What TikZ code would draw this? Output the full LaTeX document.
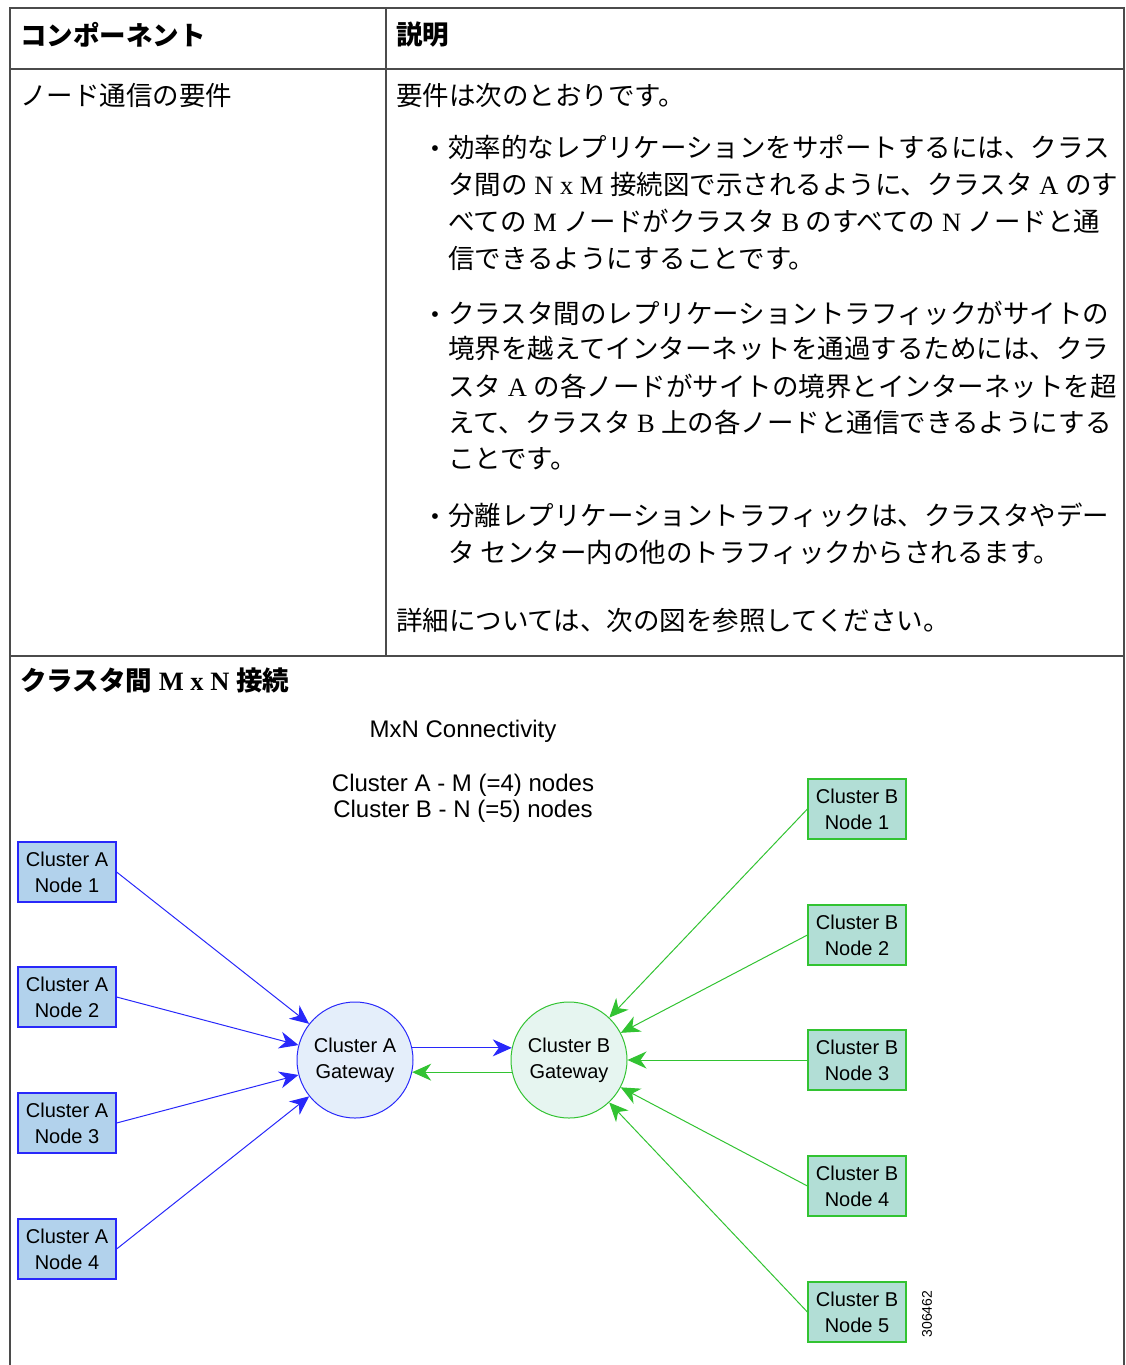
\documentclass[tikz,border=0pt]{standalone}
\usepackage{fontspec}
\setmainfont{Liberation Serif}
\newfontfamily\jpfont{Noto Sans CJK JP}
\newfontfamily\diagfont{Liberation Sans}
\usetikzlibrary{arrows.meta}
\newcommand{\latn}[1]{{\rmfamily #1}}

\definecolor{acol}{RGB}{40,40,250}
\definecolor{bcol}{RGB}{50,195,50}
\definecolor{afill}{RGB}{178,210,236}
\definecolor{bfill}{RGB}{178,222,214}
\definecolor{agfill}{RGB}{228,238,250}
\definecolor{bgfill}{RGB}{230,245,240}
\definecolor{tabcol}{RGB}{75,75,75}

\tikzset{
  tabline/.style={draw=tabcol, line width=1.6pt},
  jtext/.style={anchor=west, inner sep=0pt, font=\jpfont\fontsize{26.5}{30}\selectfont},
  jhead/.style={jtext, font=\jpfont\bfseries\fontsize{26.5}{30}\selectfont},
  bullet/.style={anchor=center, inner sep=0pt, font=\rmfamily\fontsize{24}{26}\selectfont},
  dtext/.style={font=\diagfont\fontsize{20}{26}\selectfont, align=center, inner sep=0pt},
  abox/.style={dtext, draw=acol, fill=afill, line width=1.2pt, minimum width=98pt, minimum height=60pt},
  bbox/.style={dtext, draw=bcol, fill=bfill, line width=1.2pt, minimum width=98pt, minimum height=60pt},
  agw/.style={dtext, circle, draw=acol, fill=agfill, line width=1pt, minimum size=116pt},
  bgw/.style={dtext, circle, draw=bcol, fill=bgfill, line width=1pt, minimum size=116pt},
  aarrow/.style={draw=acol, line width=1pt, -{Stealth[length=19pt,width=17pt,inset=6pt]}},
  barrow/.style={draw=bcol, line width=1pt, -{Stealth[length=19pt,width=17pt,inset=6pt]}}
}

\begin{document}
\begin{tikzpicture}[x=1pt, y=-1pt]
  \useasboundingbox (0,0) rectangle (1126,1365);
  % tabela
  \draw[tabline] (10,1365) -- (10,8) -- (1124,8) -- (1124,1365);
  \draw[tabline] (10,69) -- (1124,69);
  \draw[tabline] (10,656) -- (1124,656);
  \draw[tabline] (386,8) -- (386,656);
  % cabecalho
  \node[jhead] (hcomp) at (20,35) {コンポーネント};
  \node[jhead] (hdesc) at (396,35) {説明};
  \node[jtext] (req) at (20,95) {ノード通信の要件};
  \node[jtext] (intro) at (396,95) {要件は次のとおりです。};
  % itens
  \foreach \y [count=\k] in {151,317,519}
    \node[bullet] (dot\k) at (435,\y) {•};
  \node[jtext] (p1a) at (448,147) {効率的なレプリケーションをサポートするには、クラス};
  \node[jtext] (p1b) at (448,184) {タ間の\latn{ N x M }接続図で示されるように、クラスタ\latn{ A }のす};
  \node[jtext] (p1c) at (448,221) {べての\latn{ M }ノードがクラスタ\latn{ B }のすべての\latn{ N }ノードと通};
  \node[jtext] (p1d) at (448,258) {信できるようにすることです。};
  \node[jtext] (p2a) at (448,313) {クラスタ間のレプリケーショントラフィックがサイトの};
  \node[jtext] (p2b) at (448,349) {境界を越えてインターネットを通過するためには、クラ};
  \node[jtext] (p2c) at (448,386) {スタ\latn{ A }の各ノードがサイトの境界とインターネットを超};
  \node[jtext] (p2d) at (448,422) {えて、クラスタ\latn{ B }上の各ノードと通信できるようにする};
  \node[jtext] (p2e) at (448,459) {ことです。};
  \node[jtext] (p3a) at (448,515) {分離レプリケーショントラフィックは、クラスタやデー};
  \node[jtext] (p3b) at (448,552) {タ センター内の他のトラフィックからされるます。};
  \node[jtext] (more) at (396,620) {詳細については、次の図を参照してください。};
  % figura
  \node[jhead] (ftitle) at (20,680) {クラスタ間\latn{ M x N }接続};
  \node[dtext, font=\diagfont\fontsize{24}{26}\selectfont] (ctitle) at (463,731) {MxN Connectivity};
  \node[dtext, font=\diagfont\fontsize{24}{26}\selectfont] (csub) at (463,798) {Cluster A - M (=4) nodes\\Cluster B - N (=5) nodes};
  \node[agw] (ga) at (355,1060) {Cluster A\\Gateway};
  \node[bgw] (gb) at (569,1060) {Cluster B\\Gateway};
  \foreach \i/\y in {1/872,2/997,3/1123,4/1249}
    \node[abox] (a\i) at (67,\y) {Cluster A\\Node \i};
  \foreach \i/\y in {1/809,2/935,3/1060,4/1186,5/1312}
    \node[bbox] (b\i) at (857,\y) {Cluster B\\Node \i};
  \foreach \i in {1,...,4} \draw[aarrow] (a\i.east) -- (ga);
  \foreach \i in {1,...,5} \draw[barrow] (b\i.west) -- (gb);
  \draw[aarrow] (ga.12) -- (gb.168);
  \draw[barrow] (gb.192) -- (ga.348);
  \node[dtext, rotate=90, font=\diagfont\fontsize{14}{16}\selectfont] (fignum) at (927,1314) {306462};
\end{tikzpicture}
\end{document}
